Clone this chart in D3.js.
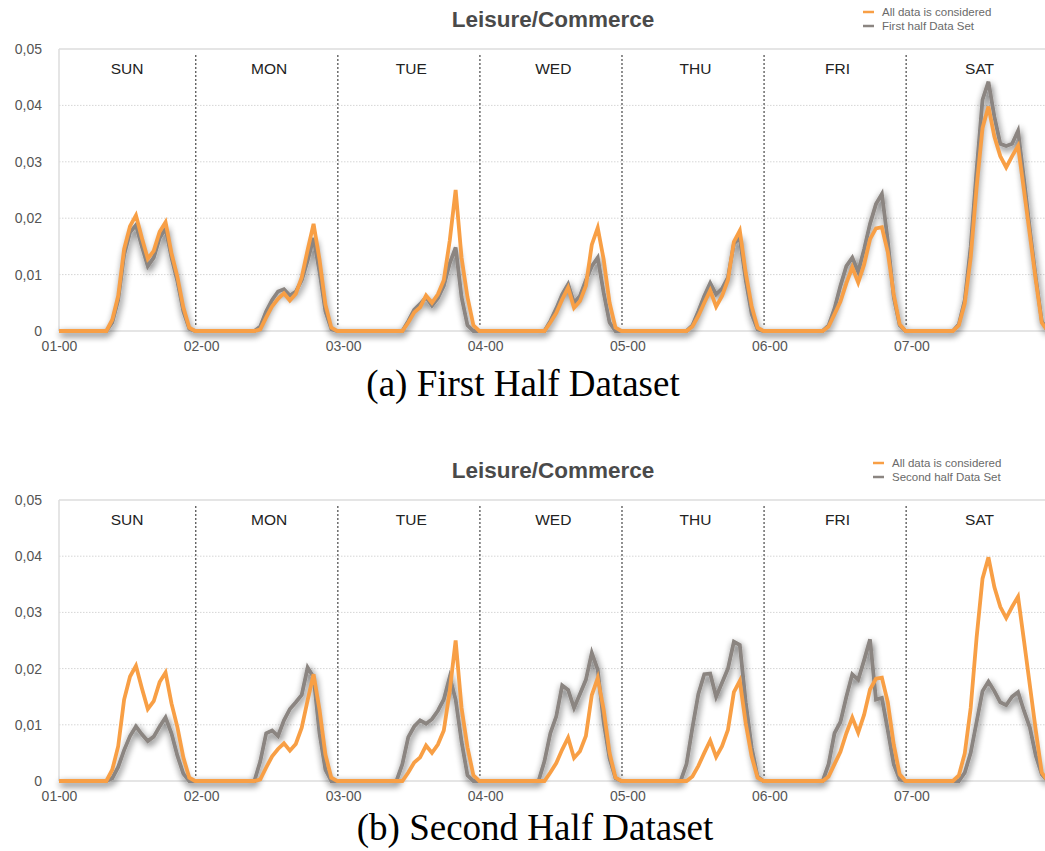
<!DOCTYPE html>
<html>
<head>
<meta charset="utf-8">
<script src="https://cdn.jsdelivr.net/npm/d3@7"></script>
<style>
  body { margin: 0; background: #fff; }
  svg { display: block; }
</style>
</head>
<body>
<svg width="1045" height="851"></svg>
<script>
// ---- data (hourly share, 24 values per day, Sunday first) ----
const days = ["SUN", "MON", "TUE", "WED", "THU", "FRI", "SAT"];
const dayTicks = ["01-00", "02-00", "03-00", "04-00", "05-00", "06-00", "07-00"];
const yTicks = [0, 0.01, 0.02, 0.03, 0.04, 0.05];

const allData = [
  // SUN
  0,0,0,0,0,0,0,0, 0,0.002,0.0062,0.0145,0.0186,0.0205,0.0165,0.0128, 0.0142,0.0176,0.0193,0.0138,0.0096,0.0042,0.0006,0,
  // MON
  0,0,0,0,0,0,0,0, 0,0,0.0003,0.0024,0.0044,0.0057,0.0067,0.0054, 0.0066,0.0095,0.0144,0.019,0.0127,0.0047,0.0006,0,
  // TUE
  0,0,0,0,0,0,0,0, 0,0,0,0.0015,0.0033,0.0042,0.0063,0.005, 0.0065,0.009,0.016,0.025,0.013,0.006,0.001,0,
  // WED
  0,0,0,0,0,0,0,0, 0,0,0,0.0015,0.0032,0.0056,0.0077,0.0041, 0.0053,0.008,0.0153,0.0183,0.0127,0.005,0.0006,0,
  // THU
  0,0,0,0,0,0,0,0, 0,0,0,0.0008,0.0027,0.005,0.0072,0.0043, 0.0062,0.0091,0.0158,0.0178,0.0103,0.0044,0.0006,0,
  // FRI
  0,0,0,0,0,0,0,0, 0,0,0.0008,0.003,0.0052,0.0085,0.0113,0.0086, 0.0118,0.0163,0.0182,0.0184,0.014,0.0065,0.0012,0,
  // SAT
  0,0,0,0,0,0,0,0, 0.001,0.0049,0.013,0.0255,0.036,0.0398,0.0345,0.031, 0.029,0.031,0.0328,0.025,0.017,0.009,0.0015,0
];

const firstHalf = [
  0,0,0,0,0,0,0,0, 0,0.0015,0.0055,0.0135,0.0175,0.0188,0.015,0.0115, 0.013,0.0165,0.0182,0.013,0.0088,0.0035,0.0004,0,
  0,0,0,0,0,0,0,0, 0,0,0.0008,0.0035,0.0055,0.007,0.0074,0.0063, 0.007,0.009,0.0125,0.0165,0.0105,0.0035,0.0003,0,
  0,0,0,0,0,0,0,0, 0,0,0,0.0018,0.0038,0.0048,0.006,0.0045, 0.0058,0.008,0.012,0.0148,0.006,0.001,0,0,
  0,0,0,0,0,0,0,0, 0,0,0,0.0018,0.004,0.0065,0.0083,0.005, 0.0062,0.009,0.0115,0.013,0.0068,0.0015,0,0,
  0,0,0,0,0,0,0,0, 0,0,0,0.001,0.0035,0.0062,0.0085,0.0065, 0.0075,0.0095,0.0155,0.0165,0.009,0.003,0.0003,0,
  0,0,0,0,0,0,0,0, 0,0,0.001,0.004,0.008,0.0115,0.013,0.0105, 0.0145,0.019,0.0225,0.0243,0.016,0.006,0.001,0,
  0,0,0,0,0,0,0,0, 0.0012,0.0055,0.015,0.0285,0.041,0.0442,0.038,0.0332, 0.0328,0.0332,0.0355,0.027,0.018,0.0095,0.0018,0
];

const secondHalf = [
  0,0,0,0,0,0,0,0, 0,0.0005,0.0025,0.0055,0.008,0.0097,0.0083,0.0071, 0.0079,0.0097,0.0113,0.0085,0.0045,0.0013,0,0,
  0,0,0,0,0,0,0,0, 0,0,0.0035,0.0085,0.009,0.008,0.0108,0.0128, 0.014,0.0153,0.0202,0.0185,0.0085,0.002,0,0,
  0,0,0,0,0,0,0,0, 0,0,0.003,0.0078,0.0097,0.0108,0.0102,0.011, 0.0125,0.0145,0.0185,0.0145,0.007,0.001,0,0,
  0,0,0,0,0,0,0,0, 0,0,0.0035,0.0085,0.0115,0.017,0.0162,0.013, 0.0155,0.018,0.0228,0.0198,0.0105,0.004,0.0005,0,
  0,0,0,0,0,0,0,0, 0,0,0.003,0.0095,0.0155,0.019,0.0191,0.015, 0.0175,0.02,0.0248,0.0242,0.014,0.006,0.0008,0,
  0,0,0,0,0,0,0,0, 0,0,0.003,0.0085,0.0105,0.015,0.019,0.018, 0.0215,0.0252,0.0145,0.0148,0.009,0.003,0.0003,0,
  0,0,0,0,0,0,0,0, 0,0.0015,0.005,0.0105,0.016,0.0177,0.016,0.014, 0.0135,0.015,0.0158,0.0125,0.0095,0.0045,0.0012,0
];

// ---- drawing ----
var svg = d3.select("svg");
var width = +svg.attr("width");
var height = +svg.attr("height");

const ORANGE = "#f89f45";
const GRAY = "#8b8581";
const left = 59;
const hourPx = 5.92;

// soft blurred halo under the gray series
var defs = svg.append("defs");
var f = defs.append("filter").attr("id", "shadow")
  .attr("filterUnits", "userSpaceOnUse")
  .attr("x", 0).attr("y", 0).attr("width", width).attr("height", height);
f.append("feGaussianBlur").attr("in", "SourceAlpha").attr("stdDeviation", 3.5).attr("result", "blur");
f.append("feOffset").attr("in", "blur").attr("dx", 1).attr("dy", 3).attr("result", "off");
f.append("feComponentTransfer").attr("in", "off").attr("result", "soft")
  .append("feFuncA").attr("type", "linear").attr("slope", 0.65);
var m = f.append("feMerge");
m.append("feMergeNode").attr("in", "soft");
m.append("feMergeNode").attr("in", "SourceGraphic");

var x = d3.scaleLinear().domain([0, 168]).range([left, left + 168 * hourPx]);

function drawChart(top, bottom, grayData, grayLabel, caption, legendX, capX, capY) {
  var y = d3.scaleLinear().domain([0, 0.05]).range([bottom, top]);
  var g = svg.append("g");

  // title
  g.append("text")
    .attr("x", 553).attr("y", top - 22)
    .attr("text-anchor", "middle")
    .style("font-family", "Liberation Sans, Arial, sans-serif")
    .style("font-size", "22.5px").style("font-weight", "bold")
    .attr("fill", "#4a4a4a")
    .text("Leisure/Commerce");

  // legend
  var leg = g.append("g").attr("transform", `translate(${legendX},${top - 37})`);
  [[ORANGE, "All data is considered"], [GRAY, grayLabel]].forEach((d, i) => {
    leg.append("line").attr("x1", 0).attr("x2", 11)
      .attr("y1", i * 14).attr("y2", i * 14)
      .attr("stroke", d[0]).attr("stroke-width", 2.5);
    leg.append("text").attr("x", 19).attr("y", i * 14 + 4)
      .style("font-family", "Liberation Sans, Arial, sans-serif")
      .style("font-size", "11.5px").attr("fill", "#6a6a6a")
      .text(d[1]);
  });

  // grid
  g.append("g").selectAll("line").data(yTicks.slice(1, 5)).enter().append("line")
    .attr("x1", left).attr("x2", width)
    .attr("y1", d => y(d)).attr("y2", d => y(d))
    .attr("stroke", "#d6d6d6").attr("stroke-dasharray", "1.5,1.5");
  g.append("line").attr("x1", left).attr("x2", width)
    .attr("y1", y(0.05)).attr("y2", y(0.05))
    .attr("stroke", "#dcdcdc").attr("stroke-width", 1.5);
  g.append("line").attr("x1", left).attr("x2", width)
    .attr("y1", y(0)).attr("y2", y(0))
    .attr("stroke", "#dcdcdc").attr("stroke-width", 1.5);
  g.append("line").attr("x1", left).attr("x2", left)
    .attr("y1", y(0.05)).attr("y2", y(0))
    .attr("stroke", "#dcdcdc").attr("stroke-width", 1.5);

  // y axis
  var yAxis = d3.axisLeft(y).tickValues(yTicks).tickSize(0).tickPadding(17)
    .tickFormat(d => d === 0 ? "0" : d.toFixed(2).replace(".", ","));
  var ya = g.append("g").attr("transform", `translate(${left},0)`).call(yAxis);
  ya.select(".domain").remove();
  ya.selectAll("text").style("font-family", "Liberation Sans, Arial, sans-serif")
    .style("font-size", "14px").attr("fill", "#555");

  // x axis
  var xAxis = d3.axisBottom(x).tickValues(d3.range(7).map(d => d * 24)).tickSize(0).tickPadding(10)
    .tickFormat((d, i) => dayTicks[i]);
  var xa = g.append("g").attr("transform", `translate(0,${bottom})`).call(xAxis);
  xa.select(".domain").remove();
  xa.selectAll("text").style("font-family", "Liberation Sans, Arial, sans-serif")
    .style("font-size", "14px").attr("fill", "#555");

  // day separators
  g.append("g").selectAll("line").data(d3.range(1, 7)).enter().append("line")
    .attr("x1", d => x(d * 24 - 0.9)).attr("x2", d => x(d * 24 - 0.9))
    .attr("y1", top + 6).attr("y2", bottom - 5)
    .attr("stroke", "#555").attr("stroke-width", 1.3).attr("stroke-dasharray", "2,2");

  // day labels
  g.append("g").selectAll("text").data(days).enter().append("text")
    .attr("x", (d, i) => x(i * 24 + 11.5)).attr("y", top + 25)
    .attr("text-anchor", "middle")
    .style("font-family", "Liberation Sans, Arial, sans-serif")
    .style("font-size", "15.5px").attr("fill", "#222")
    .text(d => d);

  var line = d3.line().x((d, i) => x(i)).y(d => y(d));

  g.append("path").datum(grayData)
    .attr("d", line).attr("fill", "none")
    .attr("stroke", GRAY).attr("stroke-width", 3.8)
    .attr("filter", "url(#shadow)");
  g.append("path").datum(allData)
    .attr("d", line).attr("fill", "none")
    .attr("stroke", ORANGE).attr("stroke-width", 3.8);

  // caption
  svg.append("text").attr("x", capX).attr("y", capY)
    .attr("text-anchor", "middle")
    .style("font-family", "Liberation Serif, Times New Roman, serif")
    .style("font-size", "37px").attr("fill", "#000")
    .text(caption);
}

drawChart(49, 331, firstHalf, "First half Data Set", "(a) First Half Dataset", 863, 523, 396);
drawChart(500, 781, secondHalf, "Second half Data Set", "(b) Second Half Dataset", 873, 535, 840);
</script>
</body>
</html>
